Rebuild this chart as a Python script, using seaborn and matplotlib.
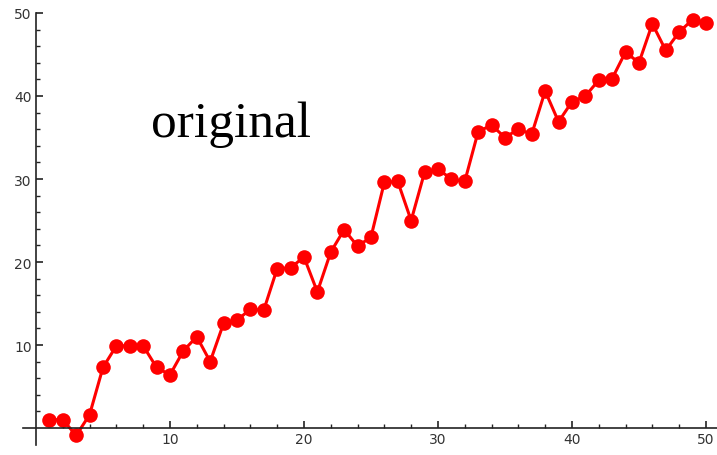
import numpy as np
import pandas as pd
import matplotlib
matplotlib.use("Agg")
import matplotlib.pyplot as plt
import seaborn as sns

# values
x_vals = list(range(1, 51))
y_vals = [1.0, 1.0, -0.9, 1.6, 7.3, 9.9, 9.9, 9.9, 7.3, 6.4,
          9.3, 11.0, 8.0, 12.6, 13.0, 14.3, 14.2, 19.2, 19.3, 20.6,
          16.4, 21.2, 23.9, 21.9, 23.0, 29.6, 29.7, 25.0, 30.8, 31.2,
          30.0, 29.7, 35.7, 36.5, 35.0, 36.0, 35.4, 40.6, 36.9, 39.3,
          40.0, 41.9, 42.1, 45.3, 44.0, 48.7, 45.5, 47.7, 49.2, 48.8]
major_ticks = [10, 20, 30, 40, 50]
label_text = "original"

df = pd.DataFrame({"x": x_vals, "y": y_vals})

sns.set_style("white")
fig = plt.figure(figsize=(7.17, 4.56), dpi=100)
ax = fig.add_axes([0.0315, 0.0228, 0.968, 0.9465])

sns.lineplot(data=df, x="x", y="y", ax=ax, color="#ff0000", linewidth=2.2,
             marker="o", markersize=10.5, markeredgewidth=0, markeredgecolor="#ff0000",
             clip_on=False)

ax.set_xlim(-1, 50.8)
ax.set_ylim(-2, 50)

# Mathematica-style axes crossing at origin
for side in ["top", "right"]:
    ax.spines[side].set_visible(False)
ax.spines["left"].set_position(("data", 0))
ax.spines["bottom"].set_position(("data", 0))
for side in ["left", "bottom"]:
    ax.spines[side].set_linewidth(1.2)
    ax.spines[side].set_color("#222222")

minor_ticks = [v for v in range(2, 50, 2) if v % 10 != 0]
ax.set_xticks(major_ticks)
ax.set_yticks(major_ticks)
ax.set_xticks(minor_ticks, minor=True)
ax.set_yticks(minor_ticks, minor=True)
ax.tick_params(which="both", bottom=True, left=True, top=False, right=False)
ax.tick_params(which="major", direction="in", length=5, width=1.2, color="#222222",
               labelsize=10, labelcolor="#333333", pad=3)
ax.tick_params(which="minor", direction="in", length=3, width=1.0, color="#222222")
ax.set_xlabel("")
ax.set_ylabel("")

ax.text(8.56, 35.2, label_text, family="Liberation Serif", fontsize=37,
        ha="left", va="baseline", color="black")

fig.savefig("out.png", dpi=100)
